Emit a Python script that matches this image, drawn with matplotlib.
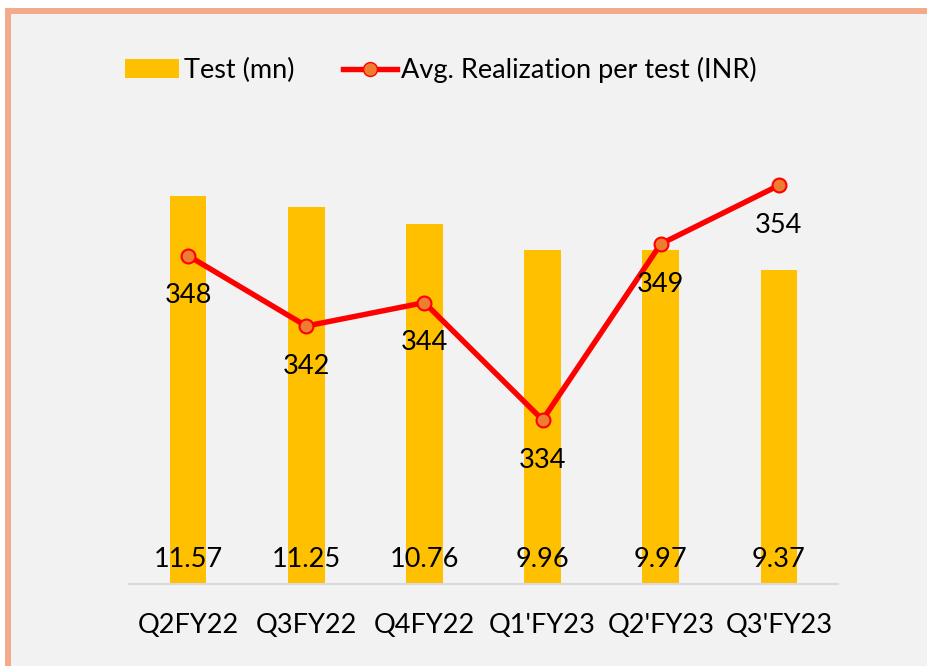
import matplotlib.pyplot as plt
from matplotlib.patches import Rectangle
from matplotlib.lines import Line2D
from matplotlib.patches import Patch

quarters = ["Q2FY22", "Q3FY22", "Q4FY22", "Q1'FY23", "Q2'FY23", "Q3'FY23"]
tests = [11.57, 11.25, 10.76, 9.96, 9.97, 9.37]
realization = [348, 342, 344, 334, 349, 354]

plt.rcParams['font.family'] = ['Lato', 'DejaVu Sans']
FS = 19.5

fig = plt.figure(figsize=(9.27, 6.66), dpi=100, facecolor='white')

# panel background with salmon frame (only left and top edges are visible)
frame = Rectangle((8 / 927, -0.2), 1.5, (1 - 11 / 666) + 0.2,
                  transform=fig.transFigure, facecolor='#f2f2f2',
                  edgecolor='#f4a98b', linewidth=4.3, zorder=-10)
fig.add_artist(frame)

ax = fig.add_axes([129 / 927, 1 - 584 / 666, 709 / 927, 469 / 666])
ax.patch.set_alpha(0)
x = range(len(quarters))

ax.bar(x, tests, width=0.31, color='#ffc000', zorder=2)
ax.set_ylim(0, 14)
ax.set_xlim(-0.5, 5.5)
for s in ['top', 'right', 'left']:
    ax.spines[s].set_visible(False)
ax.spines['bottom'].set_color('#d9d9d9')
ax.spines['bottom'].set_linewidth(1.5)
ax.set_yticks([])
ax.set_xticks(list(x))
ax.set_xticklabels(quarters, fontsize=FS)
ax.tick_params(axis='x', length=0, pad=21)

for i, v in enumerate(tests):
    ax.text(i, 0.36, f"{v:.2f}", ha='center', va='bottom', fontsize=FS, zorder=3)

ax2 = ax.twinx()
ax2.plot(x, realization, color='red', linewidth=3.9, marker='o', markersize=10,
         markerfacecolor='#ed7d31', markeredgecolor='red', markeredgewidth=1.5, zorder=4)
ax2.set_ylim(320, 360)
ax2.set_yticks([])
for s in ['top', 'right', 'left', 'bottom']:
    ax2.spines[s].set_visible(False)

for i, v in enumerate(realization):
    ax2.annotate(str(v), (i, v), xytext=(0, -29), textcoords='offset points',
                 ha='center', va='center', fontsize=FS, zorder=5)

handles = [Patch(facecolor='#ffc000'),
           Line2D([], [], color='red', linewidth=3.9, marker='o', markersize=10,
                  markerfacecolor='#ed7d31', markeredgecolor='red')]
fig.legend(handles, ["Test (mn)", "Avg. Realization per test (INR)"],
           loc='center', bbox_to_anchor=(441 / 927, 1 - 70 / 666), ncol=2,
           frameon=False, fontsize=FS, handlelength=2.0, handletextpad=0.15,
           columnspacing=1.8)

fig.savefig('out.png', dpi=100, facecolor=fig.get_facecolor())
